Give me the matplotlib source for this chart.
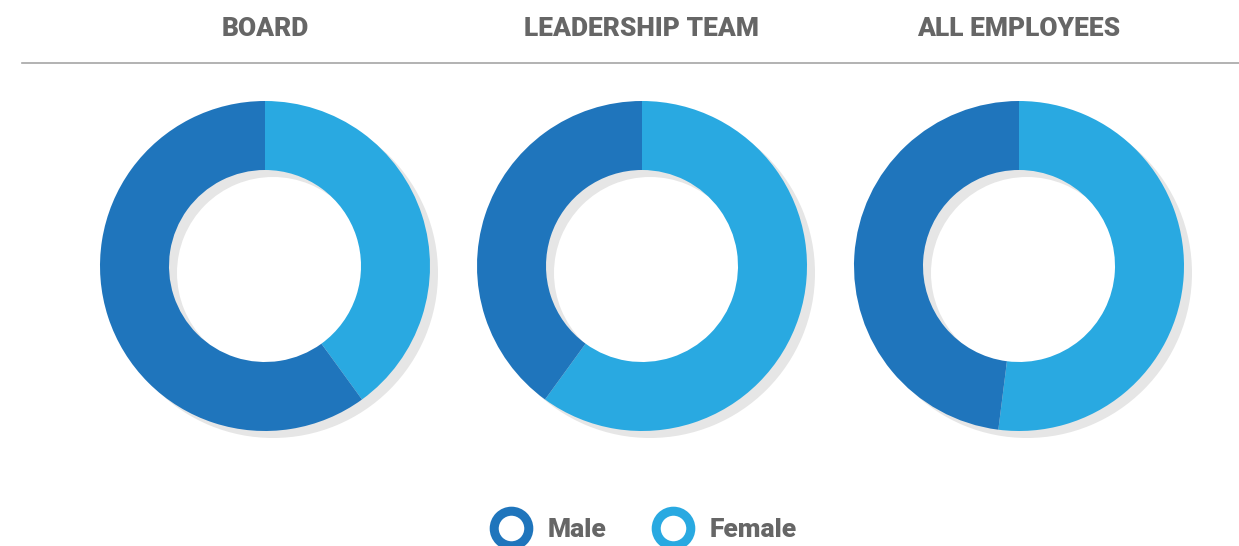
import matplotlib.pyplot as plt

# share of each group, female first (drawn clockwise from 12 o'clock)
groups = ["BOARD", "LEADERSHIP TEAM", "ALL EMPLOYEES"]
female = [40, 60, 52]
male = [60, 40, 48]
legend_labels = ["Male", "Female"]

male_color = "#1f75bc"
female_color = "#29a9e1"
shadow_color = "#e6e6e6"
text_color = "#666666"

W, H = 1239, 546
fig = plt.figure(figsize=(W / 100, H / 100), dpi=100)
ax = fig.add_axes([0, 0, 1, 1])
ax.set_xlim(0, W)
ax.set_ylim(0, H)
ax.set_aspect("equal")
ax.axis("off")

centers_x = [265, 642, 1019]
cy = H - 266
radius = 165
ring = 69

for i, name in enumerate(groups):
    cx = centers_x[i]
    # drop shadow
    ax.pie([1], colors=[shadow_color], center=(cx + 8, cy - 7), radius=radius,
           wedgeprops=dict(width=ring, linewidth=0), frame=True)
    ax.pie([female[i], male[i]], colors=[female_color, male_color],
           center=(cx, cy), radius=radius, startangle=90, counterclock=False,
           wedgeprops=dict(width=ring, linewidth=0), frame=True)
    ax.text(cx, H - 29, name, ha="center", va="center", fontsize=19,
            fontweight="black", color=text_color, family="Roboto")

# reset limits after pie
ax.set_xlim(0, W)
ax.set_ylim(0, H)
ax.axis("off")

ax.plot([22, W], [H - 63, H - 63], color="#a6a6a6", lw=1.2)

# legend
leg_x = [511, 673]
leg_colors = [male_color, female_color]
for x, lab, c in zip(leg_x, legend_labels, leg_colors):
    ax.scatter([x], [H - 528], s=620, facecolor="white", edgecolor=c,
               linewidth=6.5, clip_on=False, zorder=5)
    ax.text(x + 37, H - 530, lab, ha="left", va="center", fontsize=19,
            fontweight="black", color=text_color, family="Roboto")

fig.savefig("out.png", dpi=100)
